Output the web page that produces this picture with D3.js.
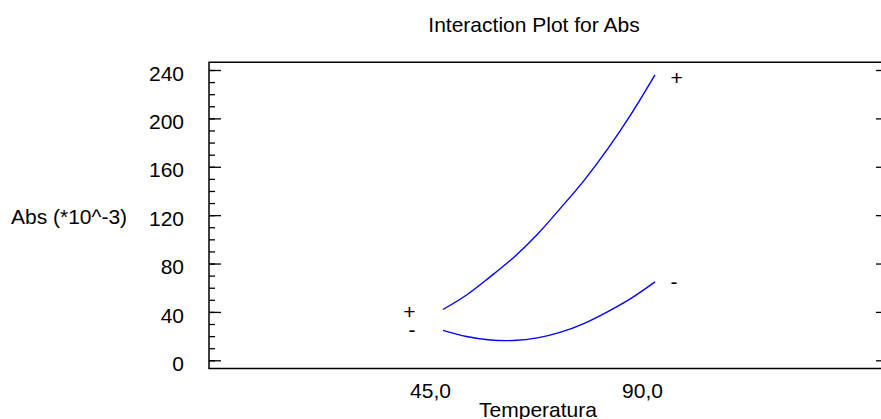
<!DOCTYPE html>
<html lang="es">
<head>
    <meta charset="UTF-8">
    <title>Interaction Plot for Abs</title>
    <style>
        body {
            margin: 0;
            padding: 0;
            background: #fff;
        }

        svg text {
            font-family: "Liberation Sans", Arial, sans-serif;
            font-size: 21px;
            fill: #000;
        }

        .axis .domain {
            display: none;
        }

        .axis line {
            stroke: #000;
            stroke-width: 1.3px;
        }

        .curve {
            fill: none;
            stroke: #0000ff;
            stroke-width: 1.4px;
        }
    </style>
</head>
<body>
<script src="https://d3js.org/d3.v7.min.js"></script>
<script>
    // Datos
    const temperatures = [45, 50, 55, 60, 65, 70, 75, 80, 85, 90];
    const absPlus = [42, 54, 69, 85, 104, 126, 149, 175, 204, 236];
    const absMinus = [24.8, 19.7, 16.8, 16.4, 18.5, 23.3, 30.6, 40.3, 51.4, 64.8];
    const seriesLabels = ["+", "-"];
    const xTicks = [45, 90];
    const xTickLabels = ["45,0", "90,0"];
    const yTicks = [0, 40, 80, 120, 160, 200, 240];
    const yMinorTicks = d3.range(0, 241, 10);

    const width = 881, height = 419;
    const frame = { left: 209, right: 888, top: 62.3, bottom: 368.5 };

    const svg = d3.select("body").append("svg")
        .attr("width", width)
        .attr("height", height);

    // Escalas
    const xScale = d3.scaleLinear()
        .domain([45, 90])
        .range([443, 655]);

    const yScale = d3.scaleLinear()
        .domain([0, 240])
        .range([360.3, 70]);

    // Titulo
    svg.append("text")
        .attr("x", 534)
        .attr("y", 32)
        .attr("text-anchor", "middle")
        .text("Interaction Plot for Abs");

    // Marco (abierto a la derecha, se sale de la ventana)
    svg.append("path")
        .attr("d", `M${frame.right},${frame.top}H${frame.left}V${frame.bottom}H${frame.right}`)
        .attr("fill", "none")
        .attr("stroke", "#000")
        .attr("stroke-width", 1.5);

    // Eje y izquierdo: marcas menores
    svg.append("g")
        .attr("class", "axis")
        .attr("transform", `translate(${frame.left},0)`)
        .call(d3.axisLeft(yScale).tickValues(yMinorTicks).tickSize(-6).tickSizeOuter(0).tickFormat(""));

    // Eje y izquierdo: marcas mayores con etiquetas
    svg.append("g")
        .attr("class", "axis")
        .attr("transform", `translate(${frame.left},0)`)
        .call(d3.axisLeft(yScale).tickValues(yTicks).tickSize(-12).tickSizeOuter(0).tickPadding(25))
        .selectAll("text")
        .attr("dy", "0.48em")
        .style("font-size", "21px")
        .style("font-family", "'Liberation Sans', Arial, sans-serif");

    // Eje y derecho
    svg.append("g")
        .attr("class", "axis")
        .attr("transform", `translate(${frame.right},0)`)
        .call(d3.axisRight(yScale).tickValues(yTicks).tickSize(-12).tickSizeOuter(0).tickFormat(""));

    // Eje x (solo etiquetas)
    const xAxis = svg.append("g")
        .attr("class", "axis")
        .attr("transform", `translate(0,${frame.bottom})`)
        .call(d3.axisBottom(xScale).tickValues(xTicks).tickSize(0).tickPadding(15)
            .tickFormat((d, i) => xTickLabels[i]));
    xAxis.selectAll("line").remove();
    xAxis.selectAll("text")
        .attr("dx", -13)
        .style("font-size", "21px")
        .style("font-family", "'Liberation Sans', Arial, sans-serif");

    // Titulos de ejes
    svg.append("text")
        .attr("x", 538)
        .attr("y", 417)
        .attr("text-anchor", "middle")
        .text("Temperatura");

    svg.append("text")
        .attr("x", 11)
        .attr("y", 223.5)
        .text("Abs (*10^-3)");

    // Curvas
    const line = d3.line()
        .x((d, i) => xScale(temperatures[i]))
        .y(d => yScale(d))
        .curve(d3.curveCatmullRom);

    const series = [absPlus, absMinus];

    series.forEach((values, s) => {
        svg.append("path")
            .datum(values)
            .attr("class", "curve")
            .attr("d", line);

        const glyphDy = seriesLabels[s] === "+" ? 10 : 7;

        // etiqueta al inicio
        svg.append("text")
            .attr("x", xScale(temperatures[0]) - 27.5)
            .attr("y", yScale(values[0]) + glyphDy)
            .attr("text-anchor", "end")
            .text(seriesLabels[s]);

        // etiqueta al final
        svg.append("text")
            .attr("x", xScale(temperatures[temperatures.length - 1]) + 15.5)
            .attr("y", yScale(values[values.length - 1]) + glyphDy)
            .attr("text-anchor", "start")
            .text(seriesLabels[s]);
    });
</script>
</body>
</html>
